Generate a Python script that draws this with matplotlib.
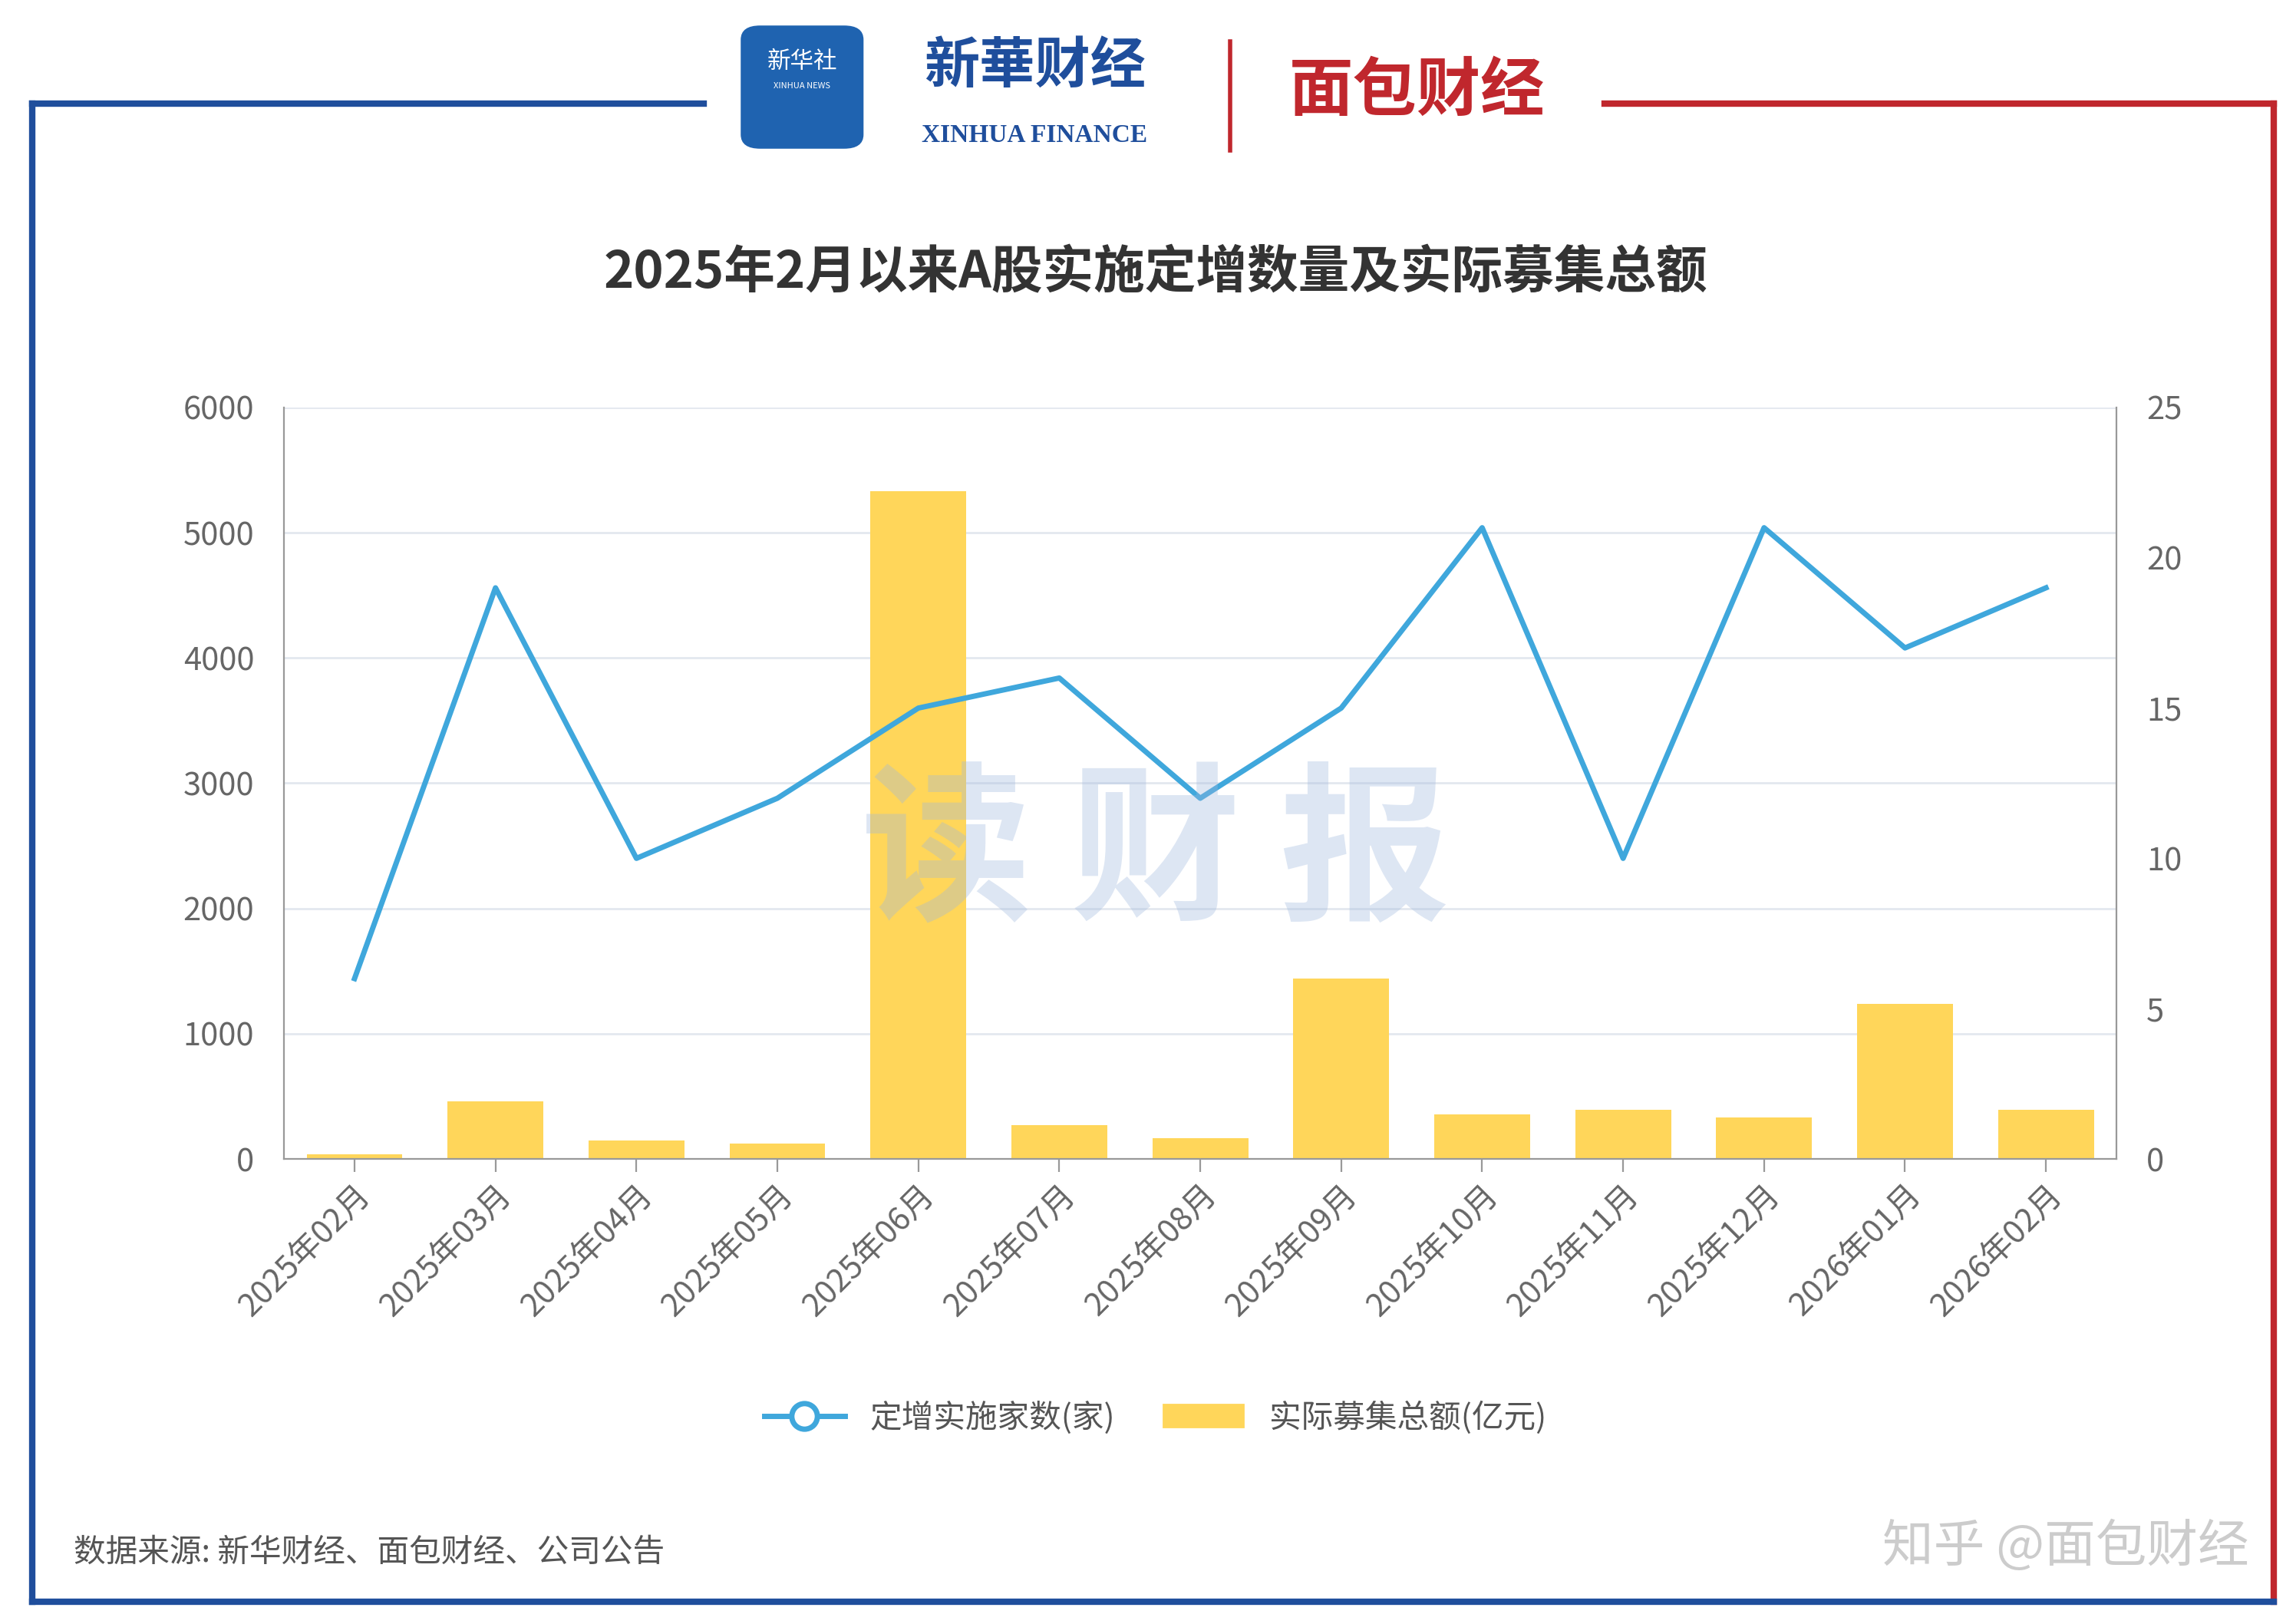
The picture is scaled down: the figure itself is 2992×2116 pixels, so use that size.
import matplotlib.pyplot as plt
from matplotlib.lines import Line2D
from matplotlib.patches import Patch, FancyBboxPatch

plt.rcParams['font.family'] = ['Noto Sans CJK SC', 'DejaVu Sans']

months = ["2025年02月", "2025年03月", "2025年04月", "2025年05月", "2025年06月", "2025年07月",
          "2025年08月", "2025年09月", "2025年10月", "2025年11月", "2025年12月", "2026年01月", "2026年02月"]
amount = [40, 460, 150, 120, 5330, 270, 165, 1440, 355, 390, 330, 1240, 390]
count = [6, 19, 10, 12, 15, 16, 12, 15, 21, 10, 21, 17, 19]

W, H = 1560, 1100
fig = plt.figure(figsize=(14.96, 10.58), dpi=200)


def fx(x):
    return x / W


def fy(y):
    return 1 - y / H


# frame
blue, red = "#1f4e9c", "#c0272d"
fig.add_artist(Line2D([fx(22), fx(478)], [fy(70), fy(70)], color=blue, lw=3))
fig.add_artist(Line2D([fx(22), fx(22)], [fy(70), fy(1085)], color=blue, lw=3))
fig.add_artist(Line2D([fx(1090), fx(1545)], [fy(70), fy(70)], color=red, lw=3))
fig.add_artist(Line2D([fx(1545), fx(1545)], [fy(70), fy(1085)], color=red, lw=3))
fig.add_artist(Line2D([fx(22), fx(1545)], [fy(1085), fy(1085)], color=blue, lw=3))

# logos
fig.add_artist(FancyBboxPatch((fx(504), fy(100)), fx(82), fy(18) - fy(100),
                              boxstyle="round,pad=0,rounding_size=0.008", color="#1f63b0"))
fig.text(fx(545), fy(42), "新华社", color="white", fontsize=11, ha="center", va="center")
fig.text(fx(545), fy(58), "XINHUA NEWS", color="white", fontsize=4, ha="center", va="center")
fig.text(fx(703), fy(45), "新華财经", color="#1f4e9c", fontsize=26, ha="center", va="center",
         style="italic", fontweight="bold")
fig.text(fx(703), fy(92), "XINHUA FINANCE", color="#1f4e9c", fontsize=12, ha="center",
         va="center", family="Liberation Serif", fontweight="bold")
fig.add_artist(Line2D([fx(836), fx(836)], [fy(28), fy(102)], color=red, lw=2))
fig.text(fx(963), fy(62), "面包财经", color=red, fontsize=30, ha="center", va="center",
         fontweight="bold")

fig.text(fx(785), fy(185), "2025年2月以来A股实施定增数量及实际募集总额", fontsize=24,
         fontweight="bold", color="#333333", ha="center", va="center")

ax = fig.add_axes([fx(193), fy(785), fx(1438) - fx(193), fy(276) - fy(785)])
ax2 = ax.twinx()

x = range(len(months))
ax.bar(x, amount, width=0.68, color="#ffd65a", zorder=2)
ax2.plot(x, count, color="#3fa7dc", lw=2.5, zorder=3)

ax.set_ylim(0, 6000)
ax.set_yticks(range(0, 6001, 1000))
ax2.set_ylim(0, 25)
ax2.set_yticks(range(0, 26, 5))
ax.set_xlim(-0.5, len(months) - 0.5)
ax.set_xticks(list(x))
ax.set_xticklabels(months, rotation=45, ha="right", rotation_mode="anchor", fontsize=15,
                   color="#666666")
ax.grid(axis="y", color="#e3e8ef", lw=1, zorder=0)
ax.set_axisbelow(True)
for a in (ax, ax2):
    for s in a.spines.values():
        s.set_visible(False)
    a.tick_params(axis="y", length=0, labelsize=15, labelcolor="#666666", pad=14)
ax.spines["left"].set_visible(True)
ax.spines["left"].set_color("#999999")
ax.spines["bottom"].set_visible(True)
ax.spines["bottom"].set_color("#999999")
ax2.spines["right"].set_visible(True)
ax2.spines["right"].set_color("#999999")
ax.tick_params(axis="x", color="#999999", length=6)

# watermark
fig.text(fx(785), fy(580), "读 财 报", fontsize=80, fontweight="bold", color="#9fb8dd",
         alpha=0.35, ha="center", va="center")

handles = [Line2D([0], [0], color="#3fa7dc", lw=2.5, marker="o", markersize=12,
                  markerfacecolor="white", markeredgewidth=2.5),
           Patch(color="#ffd65a")]
fig.legend(handles, ["定增实施家数(家)", "实际募集总额(亿元)"], loc="center",
           bbox_to_anchor=(fx(785), fy(960)), ncol=2, frameon=False, fontsize=15,
           labelcolor="#555555", handlelength=2.5, columnspacing=1.5)

fig.text(fx(50), fy(1052), "数据来源: 新华财经、面包财经、公司公告", fontsize=15,
         color="#555555", va="center")
fig.text(fx(1528), fy(1048), "知乎 @面包财经", fontsize=24, color="#cccccc", ha="right",
         va="center")

fig.savefig("out.png", dpi=200, facecolor="white")
